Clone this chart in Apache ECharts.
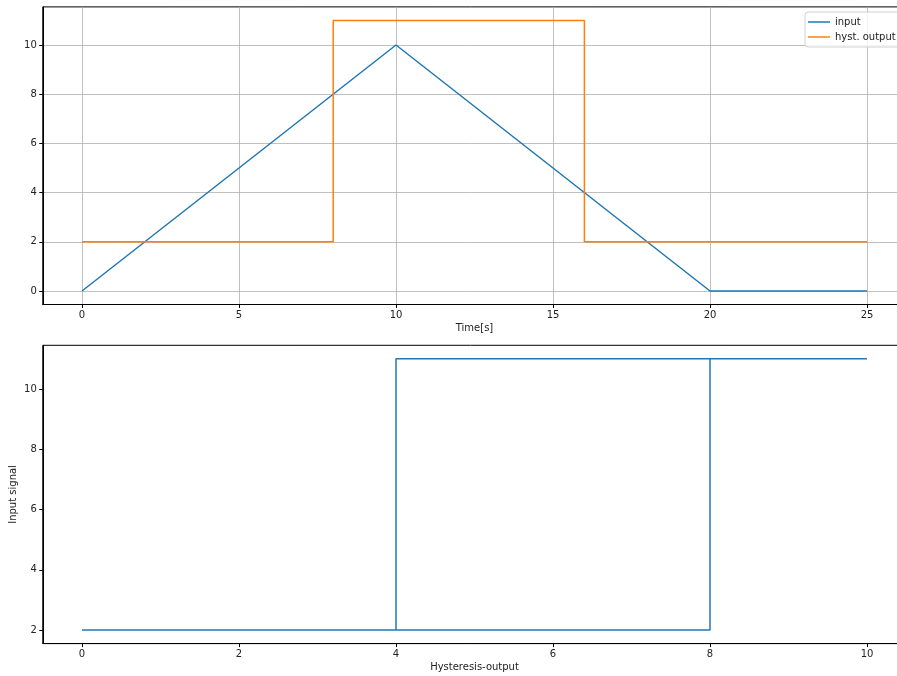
<!DOCTYPE html>
<html>
<head>
<meta charset="utf-8">
<script src="https://cdn.jsdelivr.net/npm/echarts@6/dist/echarts.min.js"></script>
<style>html,body{margin:0;padding:0;background:#fff}#c{width:897px;height:676px}</style>
</head>
<body>
<div id="c"></div>
<script>
// Top plot: input triangle and hysteresis output over time
const inputTime = [0, 10, 20, 25];
const inputValues = [0, 10, 0, 0];
const outputTime = [0, 8, 8, 16, 16, 25];
const outputValues = [2, 2, 11, 11, 2, 2];
// Bottom plot: output vs input (hysteresis loop)
const loopInput = [0, 8, 8, 10, 4, 4, 0];
const loopOutput = [2, 2, 11, 11, 11, 2, 2];
// Tick labels
const topXTicks = [0, 5, 10, 15, 20, 25];
const topYTicks = [0, 2, 4, 6, 8, 10];
const botXTicks = [0, 2, 4, 6, 8, 10];
const botYTicks = [2, 4, 6, 8, 10];

const FONT = 'DejaVu Sans';
const zip = (a, b) => a.map((v, i) => [v, b[i]]);

function axisBase(ticks, min, max, grid, extra) {
  return Object.assign({
    type: 'value', gridIndex: grid, min: min, max: max,
    axisLine: { show: true, onZero: false, lineStyle: { color: '#000', width: 1 } },
    axisTick: { show: true, length: 3.5, customValues: ticks, lineStyle: { color: '#000', width: 1 } },
    axisLabel: { customValues: ticks, color: '#222', fontFamily: FONT, fontSize: 10, margin: 6 },
    splitLine: { show: false }
  }, extra || {});
}

const chart = echarts.init(document.getElementById('c'), null, { renderer: 'canvas' });
chart.setOption({
  animation: false,
  backgroundColor: '#fff',
  textStyle: { fontFamily: FONT },
  grid: [
    { left: 42.75, top: 6.9, width: 863.5, height: 297.6, show: true, borderColor: '#000', borderWidth: 1,
      backgroundColor: 'transparent', containLabel: false, outerBoundsMode: 'none' },
    { left: 42.75, top: 345.3, width: 863.5, height: 298.3, show: true, borderColor: '#000', borderWidth: 1,
      backgroundColor: 'transparent', containLabel: false, outerBoundsMode: 'none' }
  ],
  legend: {
    data: ['input', 'hyst. output'],
    orient: 'vertical',
    left: 805, top: 12,
    icon: 'rect', itemWidth: 22, itemHeight: 1.5, itemGap: 3,
    padding: [4, 8, 4, 3],
    backgroundColor: 'rgba(255,255,255,0.8)',
    borderColor: '#d0d0d0', borderWidth: 1, borderRadius: 3,
    textStyle: { color: '#222', fontFamily: FONT, fontSize: 10, lineHeight: 12 }
  },
  xAxis: [
    axisBase(topXTicks, -1.25, 26.25, 0, {
      name: 'Time[s]', nameLocation: 'middle', nameGap: 19, nameMoveOverlap: false,
      nameTextStyle: { color: '#222', fontFamily: FONT, fontSize: 10 },
      splitLine: { show: true, lineStyle: { color: '#b0b0b0', width: 0.8 } }
    }),
    axisBase(botXTicks, -0.5, 10.5, 1, {
      name: 'Hysteresis-output', nameLocation: 'middle', nameGap: 19, nameMoveOverlap: false,
      nameTextStyle: { color: '#222', fontFamily: FONT, fontSize: 10 }
    })
  ],
  yAxis: [
    axisBase(topYTicks, -0.55, 11.55, 0, {
      splitLine: { show: true, lineStyle: { color: '#b0b0b0', width: 0.8 } }
    }),
    axisBase(botYTicks, 1.55, 11.45, 1, {
      name: 'Input signal', nameLocation: 'middle', nameGap: 24, nameRotate: 90, nameMoveOverlap: false,
      nameTextStyle: { color: '#222', fontFamily: FONT, fontSize: 10 }
    })
  ],
  series: [
    { name: 'input', type: 'line', xAxisIndex: 0, yAxisIndex: 0, data: zip(inputTime, inputValues),
      showSymbol: false, color: '#1f77b4', lineStyle: { width: 1.5, color: '#1f77b4' } },
    { name: 'hyst. output', type: 'line', xAxisIndex: 0, yAxisIndex: 0, data: zip(outputTime, outputValues),
      showSymbol: false, color: '#ff7f0e', lineStyle: { width: 1.5, color: '#ff7f0e' } },
    { name: 'loop', type: 'line', xAxisIndex: 1, yAxisIndex: 1, data: zip(loopInput, loopOutput),
      showSymbol: false, color: '#1f77b4', lineStyle: { width: 1.5, color: '#1f77b4' } }
  ]
});
</script>
</body>
</html>
